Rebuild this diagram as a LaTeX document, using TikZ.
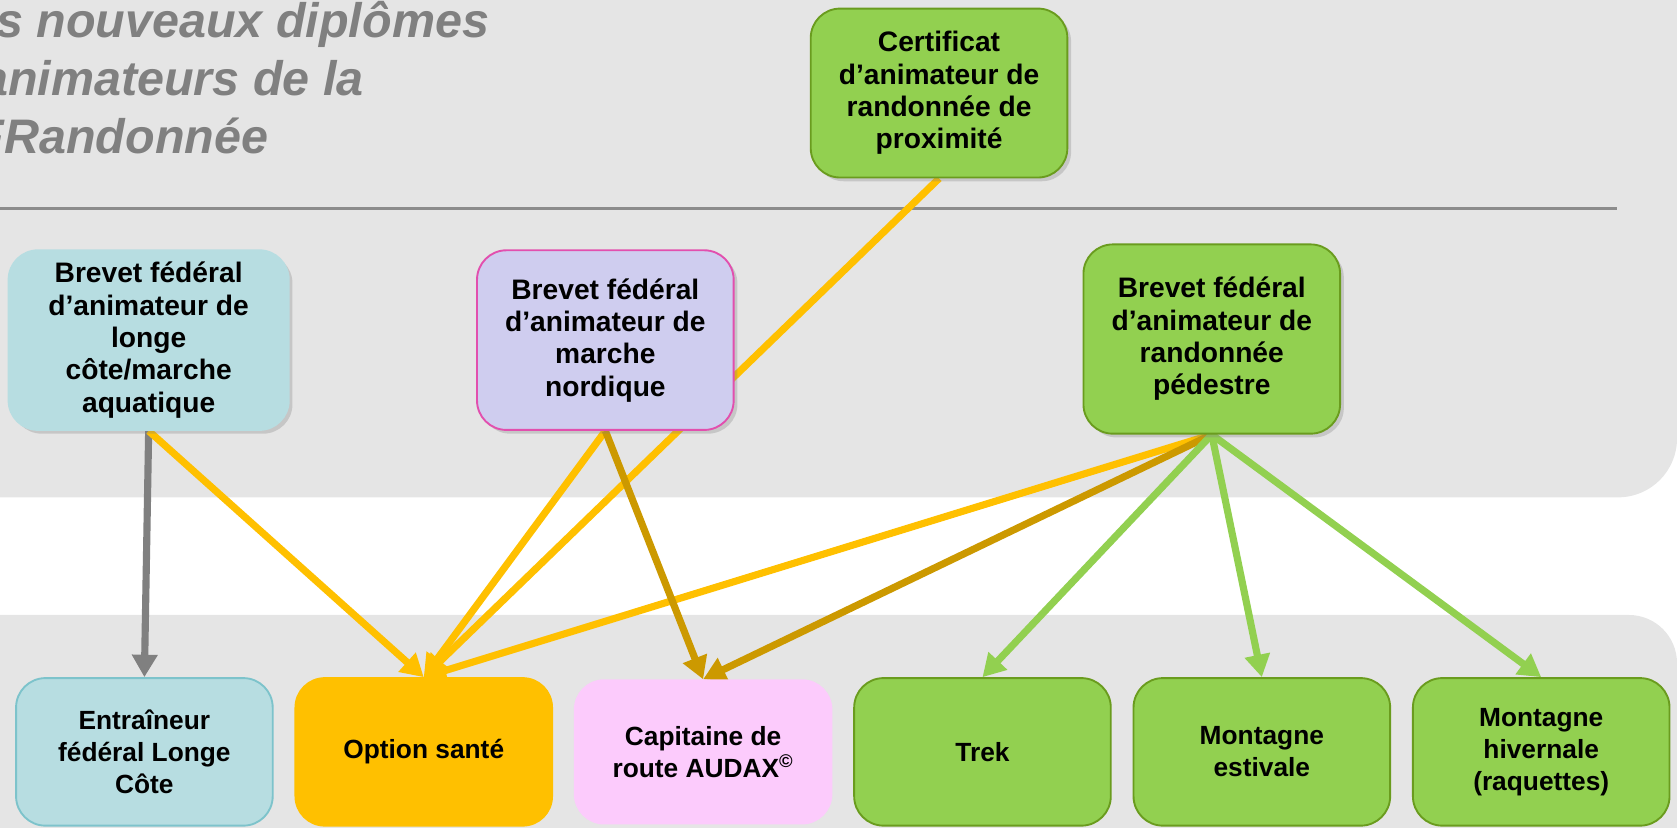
\documentclass[tikz,border=0pt]{standalone}
\usepackage{fontspec}
\setmainfont{Liberation Sans}
\usetikzlibrary{positioning, arrows.meta, shadows, backgrounds}
\definecolor{fondgris}{HTML}{E5E5E5}
\definecolor{turquoise}{HTML}{B7DDE1}
\definecolor{turquoisebord}{HTML}{7DC3CB}
\definecolor{lavande}{HTML}{CFCDEF}
\definecolor{rosebord}{HTML}{E24FAE}
\definecolor{vert}{HTML}{92D050}
\definecolor{vertfonce}{HTML}{6A9C1E}
\definecolor{orangeopt}{HTML}{FFC000}
\definecolor{rosepale}{HTML}{FCCBFC}
\definecolor{ocre}{HTML}{CC9900}
\definecolor{grisligne}{HTML}{8C8C8C}
\definecolor{gristexte}{HTML}{808080}
\tikzset{
  diplome/.style={
    draw,
    rectangle,
    rounded corners=0.55cm,
    minimum width=4.8cm,
    minimum height=2.76cm,
    align=center,
    line width=1pt,
    font=\bfseries\fontsize{14}{17}\selectfont
  },
  brevet/.style={
    diplome,
    minimum height=3.36cm,
    font=\bfseries\fontsize{15}{17.2}\selectfont,
    drop shadow={shadow xshift=0.07cm, shadow yshift=-0.07cm, opacity=0.3}
  },
  fleche/.style={
    line width=3.8pt,
    -{Triangle[length=0.42cm, width=0.46cm]}
  },
  titre/.style={
    align=left,
    inner sep=0pt,
    text=gristexte,
    font=\bfseries\itshape\fontsize{25.8}{30.7}\selectfont
  }
}
\begin{document}
\begin{tikzpicture}[x=0.02cm, y=-0.02cm]
    \useasboundingbox (0,0) rectangle (1568,774);
    \node[titre, anchor=north west] (titre) at (-4,1) {s nouveaux diplômes\\\hspace*{-0.28cm}animateurs de la\\\hspace*{-0.40cm}FRandonnée};

    % brevets du haut
    \node[brevet, fill=turquoise, draw=turquoise, minimum width=5.24cm] (longe) at (139,318) {Brevet fédéral\\d’animateur de\\longe\\côte/marche\\aquatique};
    \node[brevet, fill=lavande, draw=rosebord] (nordique) at (566,318) {Brevet fédéral\\d’animateur de\\marche\\nordique};
    \node[brevet, fill=vert, draw=vertfonce, minimum height=3.54cm] (pedestre) at (1133,317) {Brevet fédéral\\d’animateur de\\randonnée\\pédestre};
    \node[brevet, fill=vert, draw=vertfonce, minimum height=3.16cm] (proximite) at (878,87) {Certificat\\d’animateur de\\randonnée de\\proximité};

    % options du bas
    \node[diplome, fill=turquoise, draw=turquoisebord] (entraineur) at (135,703) {Entraîneur\\fédéral Longe\\Côte};
    \node[diplome, fill=orangeopt, draw=orangeopt, right=0.39cm of entraineur] (sante) {Option santé};
    \node[diplome, fill=rosepale, draw=rosepale, minimum height=2.68cm, right=0.39cm of sante] (audax) {Capitaine de\\route AUDAX\textsuperscript{©}};
    \node[diplome, fill=vert, draw=vertfonce, right=0.39cm of audax] (trek) {Trek};
    \node[diplome, fill=vert, draw=vertfonce, right=0.39cm of trek] (estivale) {Montagne\\estivale};
    \node[diplome, fill=vert, draw=vertfonce, right=0.39cm of estivale] (hivernale) {Montagne\\hivernale\\(raquettes)};

    \begin{scope}[on background layer]
    \fill[fondgris] (-10,-10) -- (1568,-10) -- (1568,410) arc[start angle=0, end angle=90, radius=55] -- (-10,465) -- cycle;
    \fill[fondgris] (-10,784) -- (-10,575) -- (1523,575) arc[start angle=-90, end angle=0, radius=45] -- (1568,784) -- cycle;
    \draw[grisligne, line width=1.2pt] (0,195) -- (1512,195);

    \draw[fleche, gristexte] (longe.south) -- (entraineur.north);
    \draw[fleche, orangeopt] (longe.south) -- (sante.north);
    \draw[fleche, orangeopt] (nordique.south) -- (sante.north);
    \draw[fleche, orangeopt] (proximite.south) -- (sante.north);
    \draw[fleche, orangeopt] (pedestre.south) -- (sante.north);
    \draw[fleche, ocre] (nordique.south) -- (audax.north);
    \draw[fleche, ocre] (pedestre.south) -- (audax.north);
    \foreach \cible in {trek, estivale, hivernale}
        \draw[fleche, vert] (pedestre.south) -- (\cible.north);
    \end{scope}
\end{tikzpicture}
\end{document}
